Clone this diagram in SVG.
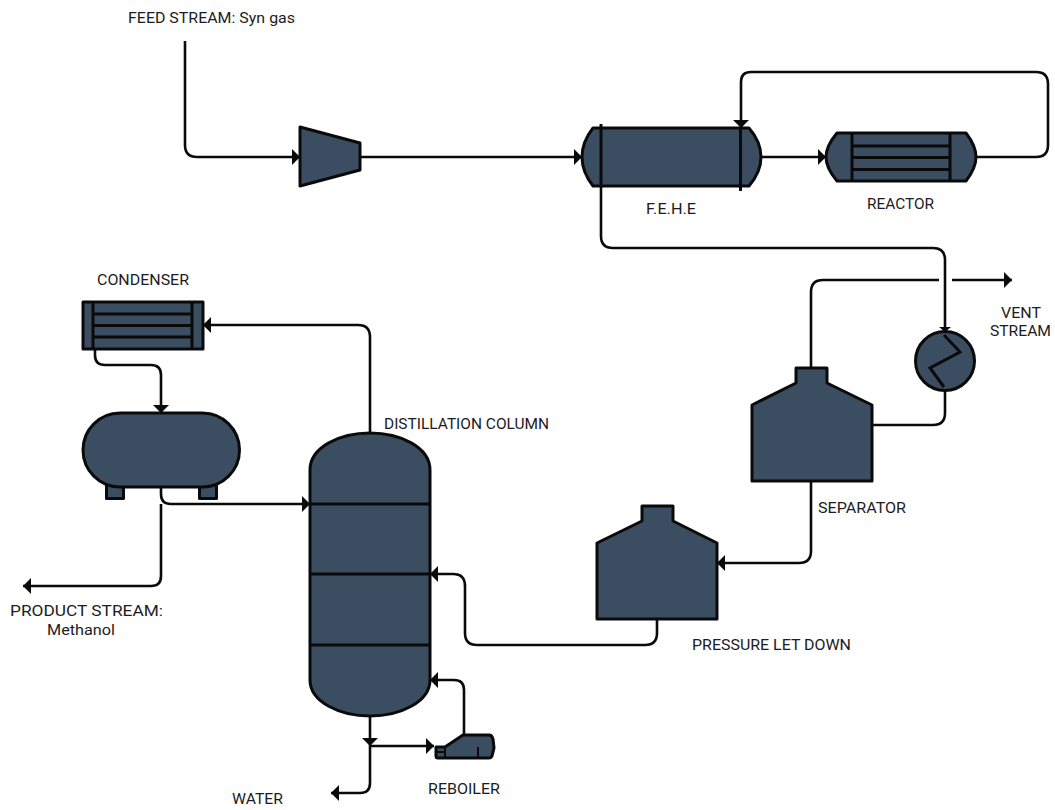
<svg xmlns="http://www.w3.org/2000/svg" width="1055" height="810" viewBox="0 0 1055 810">
<style>
.eq{fill:#3b4d61;stroke:#0a0a0a;stroke-width:3;stroke-linejoin:round}
.in{fill:none;stroke:#0a0a0a;stroke-width:3}
.ln{fill:none;stroke:#0a0a0a;stroke-width:2.6}
.t{font-family:"Roboto","Liberation Sans",sans-serif;font-size:15px;fill:#1c1c22}
</style>
<defs>
<marker id="a" markerUnits="userSpaceOnUse" markerWidth="12" markerHeight="16" refX="9" refY="8" orient="auto"><path d="M1 0L9 8L1 16Z" fill="#0a0a0a"/></marker>
<marker id="s" markerUnits="userSpaceOnUse" markerWidth="8" markerHeight="12" refX="6" refY="6" orient="auto"><path d="M1 0L6 6L1 12Z" fill="#0a0a0a"/></marker>
</defs>
<rect width="1055" height="810" fill="#fff"/>
<g id="connectors">
<path class="ln" marker-end="url(#a)" d="M185 41V145Q185 157 197 157H300"/>
<path class="ln" marker-end="url(#a)" d="M360 157H582"/>
<path class="ln" marker-end="url(#a)" d="M760 157H826"/>
<path class="ln" marker-end="url(#a)" d="M976 157H1036Q1048 157 1048 145V84Q1048 72 1036 72H751Q741 72 741 82V128"/>
<path class="ln" marker-end="url(#s)" d="M601 186V236Q601 248 613 248H933Q945 248 945 260V332"/>
<path class="ln" marker-end="url(#a)" d="M811 368V292Q811 280 823 280H939M952 280H1012"/>
<path class="ln" d="M872 425H933Q945 425 945 413V390"/>
<path class="ln" marker-end="url(#a)" d="M811 481V551Q811 563 799 563H717"/>
<path class="ln" marker-end="url(#a)" d="M657 619V633Q657 645 645 645H477Q465 645 465 633V586Q465 574 453 574H430"/>
<path class="ln" marker-end="url(#a)" d="M370 433V337Q370 325 358 325H203"/>
<path class="ln" marker-end="url(#a)" d="M95 349V355Q95 365 105 365H151Q161 365 161 375V413"/>
<path class="ln" marker-end="url(#a)" d="M161 487V494Q161 504 171 504H310"/>
<path class="ln" marker-end="url(#a)" d="M161 504V576Q161 586 151 586H23"/>
<path class="ln" marker-end="url(#a)" d="M370 716V746"/>
<path class="ln" marker-end="url(#a)" d="M370 746V783Q370 793 360 793H331"/>
<path class="ln" marker-end="url(#a)" d="M370 746H434"/>
<path class="ln" marker-end="url(#a)" d="M464 735V690Q464 680 454 680H430"/>
</g>
<g id="compressor"><path class="eq" d="M300 127L360 143V170L300 186Z"/></g>
<g id="fehe">
<path class="eq" d="M593 128H749Q761 142 761 157Q761 172 749 186H593Q582 172 582 157Q582 142 593 128Z"/>
<path class="in" d="M601 124V186M740.5 128V191"/>
<text class="t" x="646" y="214" textLength="50" lengthAdjust="spacingAndGlyphs">F.E.H.E</text>
</g>
<g id="reactor">
<path class="eq" d="M837 133H966Q976 146 976 157Q976 168 966 181H837Q826 168 826 157Q826 146 837 133Z"/>
<path class="in" d="M852 133V181M950 133V181M852 146H950M852 157.500H950M852 169.500H950"/>
<text class="t" x="867" y="209" textLength="67" lengthAdjust="spacingAndGlyphs">REACTOR</text>
</g>
<g id="hx">
<circle class="eq" cx="945" cy="361" r="29.500"/>
<path class="in" d="M944 335L960 352L930 368L944 387"/>
</g>
<g id="separator">
<path class="eq" d="M796 368H827V383L872 405V481H752V405L796 383Z"/>
<text class="t" x="818" y="513" textLength="88" lengthAdjust="spacingAndGlyphs">SEPARATOR</text>
</g>
<g id="letdown">
<path class="eq" d="M642 506H673V521L717 543V619H597V543L642 521Z"/>
<text class="t" x="692" y="650" textLength="159" lengthAdjust="spacingAndGlyphs">PRESSURE LET DOWN</text>
</g>
<g id="condenser">
<rect class="eq" x="83" y="302" width="120" height="47"/>
<path class="in" d="M93 302V349M192 302V349M93 314H192M93 325.500H192M93 337H192"/>
<text class="t" x="97" y="285" textLength="92" lengthAdjust="spacingAndGlyphs">CONDENSER</text>
</g>
<g id="drum">
<rect class="eq" x="106.500" y="480" width="17" height="18.500"/>
<rect class="eq" x="199.500" y="480" width="17" height="18.500"/>
<rect class="eq" x="83" y="413" width="156.500" height="74" rx="37" ry="37"/>
</g>
<g id="column">
<path class="eq" d="M310 470C310 447 340 433 370 433C400 433 430 447 430 470V680C430 702 400 716 370 716C340 716 310 702 310 680Z"/>
<path class="in" d="M310 504H430M310 574H430M310 645H430"/>
<text class="t" x="384" y="429" textLength="165" lengthAdjust="spacingAndGlyphs">DISTILLATION COLUMN</text>
</g>
<g id="reboiler">
<path class="eq" d="M436 747H445L463 735H489Q492 735 493 739L494 748L492 756Q491 758 489 758H438Q436 758 436 756Z"/>
<path d="M436 752H445M445 747V758M478 747V758" fill="none" stroke="#0a0a0a" stroke-width="2"/>
<text class="t" x="428" y="794" textLength="72" lengthAdjust="spacingAndGlyphs">REBOILER</text>
</g>
<g id="labels">
<text class="t" x="128" y="23" textLength="167" lengthAdjust="spacingAndGlyphs">FEED STREAM: Syn gas</text>
<text class="t" x="1001" y="318" textLength="40" lengthAdjust="spacingAndGlyphs">VENT</text>
<text class="t" x="990" y="336" textLength="61" lengthAdjust="spacingAndGlyphs">STREAM</text>
<text class="t" x="10" y="616" textLength="153" lengthAdjust="spacingAndGlyphs">PRODUCT STREAM:</text>
<text class="t" x="47" y="635" textLength="68" lengthAdjust="spacingAndGlyphs">Methanol</text>
<text class="t" x="232" y="804" textLength="51" lengthAdjust="spacingAndGlyphs">WATER</text>
</g>
</svg>
